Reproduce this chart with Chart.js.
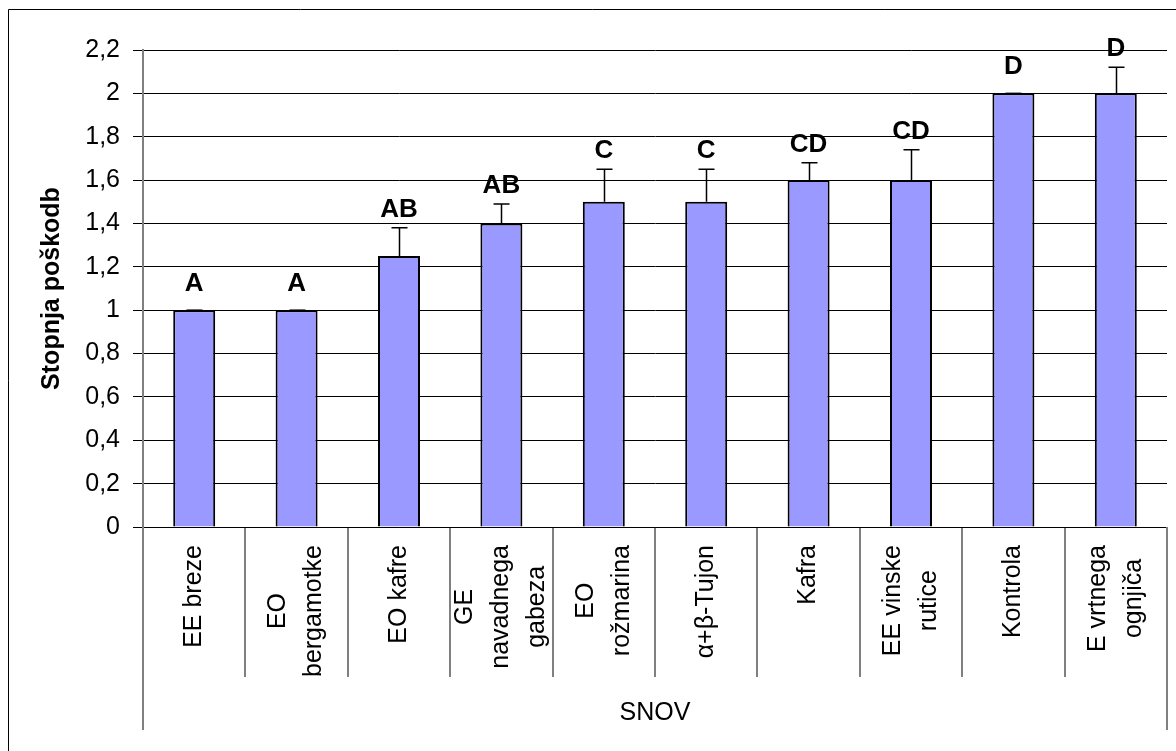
<!DOCTYPE html>
<html>
<head>
<meta charset="utf-8">
<script src="https://cdn.jsdelivr.net/npm/chart.js@4/dist/chart.umd.min.js"></script>
<style>
  html, body { margin: 0; padding: 0; background: #fff; }
  canvas { display: block; }
</style>
</head>
<body>
<canvas id="chart" width="1176" height="751"></canvas>
<script>
// Treatments (multi-line labels), mean damage grade, error and significance groups
const categories = [
  ['EE breze'],
  ['EO', 'bergamotke'],
  ['EO kafre'],
  ['GE', 'navadnega', 'gabeza'],
  ['EO', 'rožmarina'],
  ['α+β-Tujon'],
  ['Kafra'],
  ['EE vinske', 'rutice'],
  ['Kontrola'],
  ['E vrtnega', 'ognjiča']
];
const damage = [1, 1, 1.25, 1.4, 1.5, 1.5, 1.6, 1.6, 2, 2];
const errors = [0, 0, 0.13, 0.09, 0.15, 0.15, 0.08, 0.14, 0, 0.12];
const groups = ['A', 'A', 'AB', 'AB', 'C', 'C', 'CD', 'CD', 'D', 'D'];
const yMin = 0;
const yMax = 2.2;
const yStep = 0.2;
const xTitle = 'SNOV';
const yTitle = 'Stopnja poškodb';

const FONT = "'Liberation Sans', Arial, sans-serif";

function fmt(v) {
  return String(+v.toFixed(1)).replace('.', ',');
}

// Error bars, significance letters, category labels, axis extensions and outer frame
const decorations = {
  id: 'decorations',
  beforeDraw(chart) {
    const ctx = chart.ctx;
    ctx.save();
    ctx.fillStyle = '#fff';
    ctx.fillRect(0, 0, chart.width, chart.height);
    ctx.restore();
  },
  afterDatasetsDraw(chart) {
    const ctx = chart.ctx;
    const y = chart.scales.y;
    const meta = chart.getDatasetMeta(0);
    ctx.save();
    ctx.strokeStyle = '#000';
    ctx.fillStyle = '#000';
    ctx.lineWidth = 1.5;
    meta.data.forEach((bar, i) => {
      const x = Math.round(bar.x) + 0.5;
      const yTop = y.getPixelForValue(damage[i]);
      const yErr = y.getPixelForValue(damage[i] + errors[i]);
      ctx.beginPath();
      ctx.moveTo(x, yTop);
      ctx.lineTo(x, yErr);
      ctx.moveTo(x - 8, yErr);
      ctx.lineTo(x + 8, yErr);
      ctx.stroke();
      ctx.font = 'bold 26px ' + FONT;
      ctx.textAlign = 'center';
      ctx.textBaseline = 'alphabetic';
      ctx.fillText(groups[i], bar.x, yErr - (errors[i] > 0 ? 11 : 19));
    });
    ctx.restore();
  },
  afterDraw(chart) {
    const ctx = chart.ctx;
    const area = chart.chartArea;
    const xs = chart.scales.x;
    ctx.save();
    // category labels, rotated and centred line by line
    ctx.fillStyle = '#000';
    ctx.font = '25px ' + FONT;
    ctx.textAlign = 'center';
    ctx.textBaseline = 'middle';
    const lh = 36;
    categories.forEach((lines, i) => {
      const cx = xs.getPixelForValue(i);
      const maxW = Math.max(...lines.map(l => ctx.measureText(l).width));
      ctx.save();
      ctx.translate(cx, area.bottom + 18 + maxW / 2);
      ctx.rotate(-Math.PI / 2);
      lines.forEach((l, j) => {
        ctx.fillText(l, 0, (j - (lines.length - 1) / 2) * lh);
      });
      ctx.restore();
    });
    // outer category box edges down to the axis title
    ctx.strokeStyle = '#808080';
    ctx.lineWidth = 2;
    ctx.beginPath();
    ctx.moveTo(area.left, area.bottom);
    ctx.lineTo(area.left, 730);
    ctx.moveTo(area.right, area.bottom);
    ctx.lineTo(area.right, 730);
    ctx.stroke();
    // x axis title
    ctx.fillStyle = '#000';
    ctx.font = '25px ' + FONT;
    ctx.textBaseline = 'middle';
    ctx.fillText(xTitle, (area.left + area.right) / 2, 713);
    // outer chart frame
    ctx.strokeStyle = '#000';
    ctx.lineWidth = 1;
    ctx.beginPath();
    ctx.moveTo(8.5, chart.height + 2);
    ctx.lineTo(8.5, 9.5);
    ctx.lineTo(chart.width + 2, 9.5);
    ctx.stroke();
    ctx.restore();
  }
};

new Chart(document.getElementById('chart'), {
  type: 'bar',
  data: {
    labels: categories,
    datasets: [{
      data: damage,
      backgroundColor: '#9999FF',
      borderColor: '#000',
      borderWidth: 2,
      barPercentage: 0.41,
      categoryPercentage: 1
    }]
  },
  options: {
    responsive: false,
    animation: false,
    devicePixelRatio: 1,
    layout: { padding: { left: 0, right: 9, top: 50, bottom: 0 } },
    plugins: {
      legend: { display: false },
      tooltip: { enabled: false },
      title: { display: false }
    },
    scales: {
      x: {
        type: 'category',
        offset: true,
        grid: {
          display: true,
          offset: true,
          drawOnChartArea: false,
          drawTicks: true,
          tickLength: 150,
          color: '#808080',
          lineWidth: 2
        },
        border: { display: true, color: '#000', width: 1 },
        ticks: { display: false },
        afterFit(scale) { scale.height = 224; }
      },
      y: {
        min: yMin,
        max: yMax,
        ticks: {
          stepSize: yStep,
          color: '#000',
          padding: 13,
          font: { family: FONT, size: 25 },
          callback: v => fmt(v)
        },
        grid: {
          color: '#000',
          lineWidth: 1,
          drawTicks: true,
          tickLength: 10
        },
        border: { display: true, color: '#808080', width: 2 },
        title: {
          display: true,
          text: yTitle,
          color: '#000',
          font: { family: FONT, size: 25, weight: 'bold' },
          padding: { top: 37, bottom: 0 }
        },
        afterFit(scale) { scale.width = 143; }
      }
    }
  },
  plugins: [decorations]
});
</script>
</body>
</html>
